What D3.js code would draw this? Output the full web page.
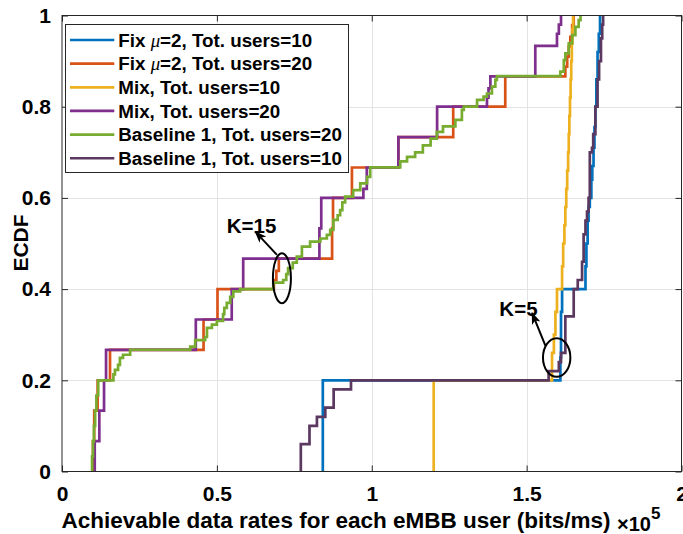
<!DOCTYPE html>
<html>
<head>
<meta charset="utf-8">
<script src="https://cdn.jsdelivr.net/npm/d3@7"></script>
<style>
  body { margin: 0; background: #fff; }
  text { font-family: "Liberation Sans", Arial, Helvetica, sans-serif; font-weight: bold; fill: #000; }
</style>
</head>
<body>
<svg id="chart" width="683" height="534"></svg>
<script>
// ECDF of achievable eMBB data rates (rates in units of 1e5 bits/ms).
// Each series is a list of [rate, F(rate)] corner points of the empirical CDF.
const xTicks = [0, 0.5, 1, 1.5, 2];
const yTicks = [0, 0.2, 0.4, 0.6, 0.8, 1];

const seriesLabels = [
  ["Fix ", "\u03BC", "=2, Tot. users=10"],
  ["Fix ", "\u03BC", "=2, Tot. users=20"],
  ["Mix, Tot. users=10"],
  ["Mix, Tot. users=20"],
  ["Baseline 1, Tot. users=20"],
  ["Baseline 1, Tot. users=10"]
];
const seriesColors = ["#0072BD", "#D95319", "#EDB120", "#7E2F8E", "#77AC30", "#5B385F"];

const fixUsers10 = [[0.842,0.2],[1.609,0.25],[1.611,0.35],[1.6145,0.4],[1.690,0.45],[1.693,0.5],[1.697,0.55],
  [1.700,0.58],[1.704,0.6],[1.709,0.64],[1.712,0.67],[1.716,0.71],[1.719,0.755],[1.722,0.8],[1.725,0.86],
  [1.729,0.92],[1.733,0.96],[1.737,1.0]];

const fixUsers20 = [[0.100,0.0667],[0.104,0.1333],[0.115,0.2],[0.155,0.2667],[0.457,0.3333],[0.502,0.4],
  [0.684,0.42],[0.692,0.44],[0.700,0.4667],[0.872,0.5333],[0.875,0.6],[0.936,0.6667],[1.086,0.7333],
  [1.263,0.8],[1.431,0.8667],[1.625,0.888],[1.631,0.91],[1.636,0.932],[1.641,0.953],[1.647,0.979],[1.652,1.0]];

const mixUsers10 = [[1.2,0.2],[1.582,0.26],[1.588,0.3],[1.593,0.35],[1.598,0.4],[1.6145,0.45],[1.618,0.5],
  [1.622,0.54],[1.625,0.58],[1.628,0.62],[1.631,0.66],[1.634,0.7],[1.636,0.74],[1.638,0.78],[1.640,0.82],
  [1.642,0.86],[1.644,0.9],[1.646,0.94],[1.648,0.97],[1.650,1.0]];

const mixUsers20 = [[0.1057,0.0667],[0.1205,0.1333],[0.1357,0.2],[0.1422,0.2667],[0.432,0.3333],[0.548,0.4],
  [0.585,0.4667],[0.831,0.5333],[0.837,0.6],[0.973,0.62],[0.984,0.6667],[1.086,0.7333],[1.211,0.8],
  [1.372,0.82],[1.377,0.84],[1.383,0.8667],[1.528,0.9333],[1.598,0.96],[1.604,0.98],[1.611,1.0]];

const baselineUsers20 = [[0.097,0.0333],[0.100,0.0667],[0.103,0.1],[0.107,0.1333],[0.111,0.1667],[0.117,0.2],
  [0.166,0.213],[0.171,0.223],[0.181,0.234],[0.187,0.249],[0.197,0.256],[0.220,0.267],
  [0.414,0.274],[0.430,0.288],[0.462,0.295],[0.468,0.315],[0.484,0.322],[0.500,0.33],[0.520,0.345],
  [0.524,0.359],[0.532,0.37],[0.543,0.383],[0.553,0.395],[0.575,0.4],
  [0.682,0.414],[0.714,0.42],[0.724,0.433],[0.730,0.446],[0.745,0.458],[0.758,0.471],[0.7745,0.493],
  [0.801,0.504],[0.834,0.511],[0.855,0.519],[0.866,0.53],[0.876,0.552],[0.890,0.562],[0.898,0.573],
  [0.905,0.59],[0.914,0.603],[0.940,0.617],[0.963,0.632],[0.985,0.646],[0.995,0.667],
  [1.092,0.68],[1.114,0.69],[1.140,0.70],[1.165,0.715],[1.19,0.73],[1.21,0.745],[1.23,0.757],[1.27,0.771],
  [1.291,0.793],[1.297,0.8],[1.34,0.815],[1.361,0.822],[1.372,0.829],[1.388,0.844],[1.399,0.859],[1.404,0.867],
  [1.609,0.877],[1.62,0.902],[1.625,0.917],[1.636,0.939],[1.647,0.957],[1.6575,0.975],[1.668,0.99],[1.674,1.0]];

const baselineUsers10 = [[0.771,0.06],[0.799,0.1],[0.823,0.12],[0.85,0.14],[0.877,0.18],[0.933,0.2],
  [1.571,0.22],[1.604,0.24],[1.611,0.26],[1.625,0.34],[1.652,0.4],[1.665,0.42],[1.679,0.46],[1.684,0.52],
  [1.69,0.55],[1.695,0.57],[1.70,0.6],[1.704,0.7],[1.711,0.71],[1.715,0.74],[1.722,0.8],[1.729,0.86],
  [1.734,0.9],[1.740,0.95],[1.744,0.98],[1.747,1.0]];

// Annotation anchors in data units: [rate, F]
const groupLabels = ["K=15", "K=5"];
const ellipseCenters = [[0.710, 0.424], [1.597, 0.250]];
const arrowTails = [[0.694, 0.475], [1.5606, 0.276]];
const arrowHeads = [[0.624, 0.526], [1.5176, 0.3476]];
const labelAnchors = [[0.532, 0.524], [1.412, 0.341]];

const series = [fixUsers10, fixUsers20, mixUsers10, mixUsers20, baselineUsers20, baselineUsers10];

const svg = d3.select("#chart");
const plotLeft = 62, plotRight = 681.5, plotTop = 15.5, plotBottom = 471.5;
const x = d3.scaleLinear().domain([0, 2]).range([plotLeft, plotRight]);
const y = d3.scaleLinear().domain([0, 1]).range([plotBottom, plotTop]);

// grid
const grid = svg.append("g").attr("stroke", "#e3e3e3").attr("stroke-width", 1);
grid.selectAll("line.gx").data(xTicks.slice(1, -1)).join("line").attr("class", "gx")
  .attr("x1", d => Math.round(x(d)) + 0.5).attr("x2", d => Math.round(x(d)) + 0.5)
  .attr("y1", plotTop).attr("y2", plotBottom);
grid.selectAll("line.gy").data(yTicks.slice(1, -1)).join("line").attr("class", "gy")
  .attr("y1", d => Math.round(y(d)) + 0.5).attr("y2", d => Math.round(y(d)) + 0.5)
  .attr("x1", plotLeft).attr("x2", plotRight);

// curves
svg.append("clipPath").attr("id", "plotClip").append("rect")
  .attr("x", plotLeft).attr("y", plotTop - 2).attr("width", plotRight - plotLeft).attr("height", plotBottom - plotTop + 2);

const line = d3.line().x(d => x(d[0])).y(d => y(d[1])).curve(d3.curveStepAfter);
svg.append("g").attr("clip-path", "url(#plotClip)")
  .selectAll("path").data(series).join("path")
  .attr("d", s => line([[s[0][0], 0], ...s]))
  .attr("fill", "none")
  .attr("stroke", (s, i) => seriesColors[i])
  .attr("stroke-width", 2.7);

// axes with inward ticks on all four sides
const tickFont = 21;
const axB = svg.append("g").attr("transform", `translate(0,${plotBottom})`)
  .call(d3.axisBottom(x).tickValues(xTicks).tickSizeInner(-6).tickSizeOuter(0).tickPadding(15).tickFormat(d => String(d)));
const axL = svg.append("g").attr("transform", `translate(${plotLeft},0)`)
  .call(d3.axisLeft(y).tickValues(yTicks).tickSizeInner(-6).tickSizeOuter(0).tickPadding(11).tickFormat(d => String(d)));
const axT = svg.append("g").attr("transform", `translate(0,${plotTop})`)
  .call(d3.axisTop(x).tickValues(xTicks).tickSizeInner(-6).tickSizeOuter(0).tickFormat(""));
const axR = svg.append("g").attr("transform", `translate(${plotRight},0)`)
  .call(d3.axisRight(y).tickValues(yTicks).tickSizeInner(-6).tickSizeOuter(0).tickFormat(""));
[axB, axL, axT, axR].forEach(g => {
  g.select(".domain").remove();
  g.selectAll(".tick line").attr("stroke", "#262626");
  g.selectAll(".tick text").attr("fill", "#000").style("font-size", tickFont + "px")
    .style("font-family", '"Liberation Sans", Arial, sans-serif').style("font-weight", "bold");
});
svg.append("rect").attr("x", plotLeft).attr("y", plotTop).attr("width", plotRight - plotLeft).attr("height", plotBottom - plotTop)
  .attr("fill", "none").attr("stroke", "#262626").attr("stroke-width", 1);

// axis labels
svg.append("text").attr("x", 336).attr("y", 528).attr("text-anchor", "middle")
  .style("font-size", "22.5px").text("Achievable data rates for each eMBB user (bits/ms)");
const mult = svg.append("text").attr("x", 617).attr("y", 531).style("font-size", "20px");
mult.append("tspan").text("\u00D710");
mult.append("tspan").attr("dy", -12).style("font-size", "17px").text("5");
svg.append("text").attr("transform", "translate(28,243) rotate(-90)").attr("text-anchor", "middle")
  .style("font-size", "21px").text("ECDF");

// annotations
const defs = svg.append("defs");
defs.append("marker").attr("id", "arrowHead").attr("viewBox", "0 -5 12 10")
  .attr("refX", 11).attr("refY", 0).attr("markerWidth", 12).attr("markerHeight", 10)
  .attr("markerUnits", "userSpaceOnUse").attr("orient", "auto")
  .append("path").attr("d", "M0,-4.5L12,0L0,4.5L3,0Z").attr("fill", "#000");

const ann = svg.append("g");
ann.selectAll("ellipse").data(ellipseCenters).join("ellipse")
  .attr("cx", d => x(d[0])).attr("cy", d => y(d[1]))
  .attr("rx", (d, i) => [9, 13.7][i]).attr("ry", (d, i) => [25, 19.3][i])
  .attr("fill", "none").attr("stroke", "#000").attr("stroke-width", 2);
ann.selectAll("line").data(arrowTails).join("line")
  .attr("x1", d => x(d[0])).attr("y1", d => y(d[1]))
  .attr("x2", (d, i) => x(arrowHeads[i][0])).attr("y2", (d, i) => y(arrowHeads[i][1]))
  .attr("stroke", "#000").attr("stroke-width", 2).attr("marker-end", "url(#arrowHead)");
ann.selectAll("text").data(labelAnchors).join("text")
  .attr("x", d => x(d[0])).attr("y", d => y(d[1]))
  .style("font-size", "20.5px").text((d, i) => groupLabels[i]);

// legend
const lg = svg.append("g");
lg.append("rect").attr("x", 65.5).attr("y", 24.5).attr("width", 283).attr("height", 148)
  .attr("fill", "#fff").attr("stroke", "#262626").attr("stroke-width", 1);
seriesLabels.forEach((parts, i) => {
  const cy = 40 + i * 23.65;
  lg.append("line").attr("x1", 70).attr("x2", 114.3).attr("y1", cy).attr("y2", cy)
    .attr("stroke", seriesColors[i]).attr("stroke-width", 2.7);
  const t = lg.append("text").attr("x", 118.3).attr("y", cy + 6.8).style("font-size", "18.8px");
  parts.forEach(p => {
    const ts = t.append("tspan").text(p);
    if (p === "\u03BC") ts.style("font-family", '"Liberation Serif", "DejaVu Serif", serif')
      .style("font-style", "italic").style("font-weight", "normal");
  });
});
</script>
</body>
</html>
